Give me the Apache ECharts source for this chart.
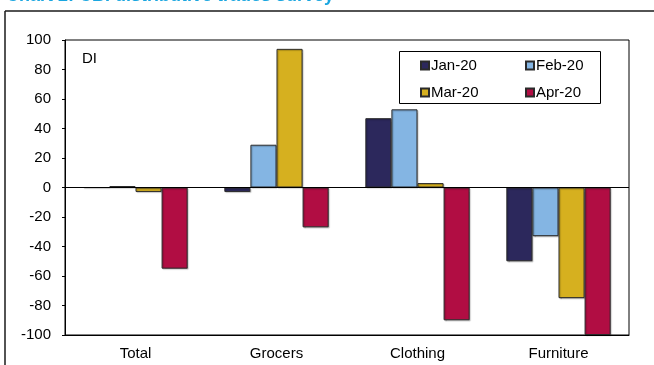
<!DOCTYPE html>
<html>
<head>
<meta charset="utf-8">
<script src="https://cdn.jsdelivr.net/npm/echarts@6/dist/echarts.min.js"></script>
<style>
  html, body { margin: 0; padding: 0; background: #fff; }
  #chart { width: 654px; height: 365px; }
</style>
</head>
<body>
<div id="chart"></div>
<script>
// Retail sectors and monthly balances (DI)
const categories = ['Total', 'Grocers', 'Clothing', 'Furniture'];
const months = ['Jan-20', 'Feb-20', 'Mar-20', 'Apr-20'];
const jan20 = [0, -3, 47, -50];
const feb20 = [1, 29, 53, -33];
const mar20 = [-3, 94, 3, -75];
const apr20 = [-55, -27, -90, -100];
const yTicks = { min: -100, max: 100, step: 20 };

const seriesValues = [jan20, feb20, mar20, apr20];
const colours = ['#2C285C', '#84B5E3', '#D6B01F', '#B10D43'];
const font = 'Liberation Sans, Arial, sans-serif';
const fs = 15;

const chart = echarts.init(document.getElementById('chart'), null, { renderer: 'canvas' });

const series = months.map((m, i) => {
  const s = {
    name: m,
    type: 'bar',
    data: seriesValues[i],
    barGap: '0%',
    barCategoryGap: '26%',
    itemStyle: {
      color: colours[i],
      borderColor: '#2a2a2a',
      borderWidth: 1,
      shadowColor: 'rgba(0,0,0,0.25)',
      shadowOffsetX: 1,
      shadowOffsetY: 1,
      shadowBlur: 1
    },
    emphasis: { disabled: true },
    animation: false
  };
  if (i === 0) {
    // zero baseline across the plot
    s.markLine = {
      silent: true,
      symbol: ['none', 'none'],
      label: { show: false },
      lineStyle: { color: '#000', width: 1, type: 'solid' },
      data: [{ yAxis: 0 }],
      animation: false
    };
  }
  return s;
});

const legendCommon = {
  orient: 'vertical',
  itemWidth: 8,
  itemHeight: 8,
  itemGap: 10,
  padding: 0,
  icon: 'rect',
  selectedMode: false,
  textStyle: { fontFamily: font, fontSize: fs, color: '#000', lineHeight: 17, padding: [0, 0, 0, -3] }
};

chart.setOption({
  animation: false,
  backgroundColor: '#fff',
  textStyle: { fontFamily: font },
  grid: {
    left: 65, right: 25, top: 40, bottom: 30,
    show: true, borderColor: '#000', borderWidth: 1, backgroundColor: 'transparent'
  },
  legend: [
    Object.assign({ data: ['Jan-20', 'Mar-20'], left: 420, top: 57 }, legendCommon),
    Object.assign({ data: ['Feb-20', 'Apr-20'], left: 525, top: 57 }, legendCommon)
  ],
  xAxis: {
    type: 'category',
    data: categories,
    position: 'bottom',
    axisLine: { onZero: false, show: true, lineStyle: { color: '#000', width: 1 } },
    axisTick: { show: false },
    axisLabel: { fontFamily: font, fontSize: fs, color: '#000', margin: 11 }
  },
  yAxis: {
    type: 'value',
    min: yTicks.min,
    max: yTicks.max,
    interval: yTicks.step,
    splitLine: { show: false },
    axisLine: { show: true, lineStyle: { color: '#000', width: 1 } },
    axisTick: { show: true, inside: false, length: 3, lineStyle: { color: '#000' } },
    axisLabel: { fontFamily: font, fontSize: fs, color: '#000', margin: 14 }
  },
  graphic: [
    // heading, mostly above the top edge
    { type: 'text', x: 6, y: 5,
      style: { text: 'Chart 2: CBI distributive trades survey', fill: '#1AA6E0',
               font: 'bold 18px ' + font, verticalAlign: 'bottom' } },
    // outer frame (top and left edges visible)
    { type: 'line', shape: { x1: 5, y1: 11, x2: 654, y2: 11 },
      style: { stroke: '#1a1a1a', lineWidth: 1.5 } },
    { type: 'line', shape: { x1: 5, y1: 11, x2: 5, y2: 365 },
      style: { stroke: '#1a1a1a', lineWidth: 1.5 } },
    // legend box
    { type: 'rect', shape: { x: 399.5, y: 51.5, width: 201, height: 52 },
      style: { fill: '#fff', stroke: '#000', lineWidth: 1 }, z: 1 },
    // unit label
    { type: 'text', left: 82, top: 51,
      style: { text: 'DI', fill: '#000', font: fs + 'px ' + font } }
  ],
  series: series
});
</script>
</body>
</html>
